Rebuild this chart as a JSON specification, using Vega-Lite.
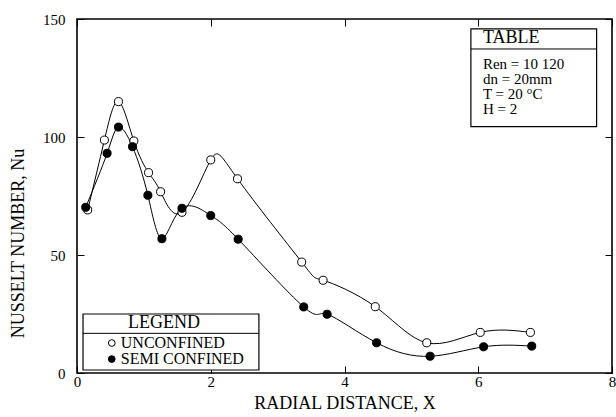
{
  "$schema": "https://vega.github.io/schema/vega-lite/v6.json",
  "width": 535,
  "height": 354,
  "autosize": {"type": "none"},
  "padding": {"left": 77, "top": 19, "right": 4, "bottom": 44},
  "background": "white",
  "config": {
    "view": {"stroke": "#000", "strokeWidth": 1.6},
    "font": "Liberation Serif",
    "axis": {
      "labelFont": "Liberation Serif",
      "labelFontSize": 15,
      "labelColor": "#000",
      "titleFont": "Liberation Serif",
      "titleFontSize": 18,
      "titleFontWeight": "normal",
      "titleColor": "#000",
      "tickColor": "#000",
      "tickSize": -7,
      "tickWidth": 1,
      "domain": false,
      "grid": false
    }
  },
  "datasets": {
    "curves": [
      {"x": 0.16, "nu": 69.1, "series": "UNCONFINED"},
      {"x": 0.41, "nu": 98.7, "series": "UNCONFINED"},
      {"x": 0.62, "nu": 115.0, "series": "UNCONFINED"},
      {"x": 0.85, "nu": 98.3, "series": "UNCONFINED"},
      {"x": 1.07, "nu": 84.9, "series": "UNCONFINED"},
      {"x": 1.25, "nu": 76.8, "series": "UNCONFINED"},
      {"x": 1.57, "nu": 68.1, "series": "UNCONFINED"},
      {"x": 2.0, "nu": 90.3, "series": "UNCONFINED"},
      {"x": 2.4, "nu": 82.3, "series": "UNCONFINED"},
      {"x": 3.36, "nu": 47.0, "series": "UNCONFINED"},
      {"x": 3.68, "nu": 39.3, "series": "UNCONFINED"},
      {"x": 4.46, "nu": 28.1, "series": "UNCONFINED"},
      {"x": 5.23, "nu": 12.8, "series": "UNCONFINED"},
      {"x": 6.03, "nu": 17.2, "series": "UNCONFINED"},
      {"x": 6.78, "nu": 17.2, "series": "UNCONFINED"},
      {"x": 0.13, "nu": 70.2, "series": "SEMI CONFINED"},
      {"x": 0.45, "nu": 93.1, "series": "SEMI CONFINED"},
      {"x": 0.62, "nu": 104.2, "series": "SEMI CONFINED"},
      {"x": 0.83, "nu": 95.9, "series": "SEMI CONFINED"},
      {"x": 1.06, "nu": 75.3, "series": "SEMI CONFINED"},
      {"x": 1.27, "nu": 56.9, "series": "SEMI CONFINED"},
      {"x": 1.57, "nu": 69.8, "series": "SEMI CONFINED"},
      {"x": 2.0, "nu": 66.7, "series": "SEMI CONFINED"},
      {"x": 2.41, "nu": 56.7, "series": "SEMI CONFINED"},
      {"x": 3.39, "nu": 28.0, "series": "SEMI CONFINED"},
      {"x": 3.74, "nu": 24.9, "series": "SEMI CONFINED"},
      {"x": 4.48, "nu": 12.8, "series": "SEMI CONFINED"},
      {"x": 5.28, "nu": 7.1, "series": "SEMI CONFINED"},
      {"x": 6.08, "nu": 11.1, "series": "SEMI CONFINED"},
      {"x": 6.8, "nu": 11.4, "series": "SEMI CONFINED"}
    ],
    "boxes": [
      {"x": 0.09, "x2": 2.72, "nu": 25.0, "nu2": 1.27},
      {"x": 5.89, "x2": 7.77, "nu": 145.8, "nu2": 104.4}
    ],
    "separators": [
      {"x": 0.09, "x2": 2.72, "nu": 16.8},
      {"x": 5.89, "x2": 7.77, "nu": 137.3}
    ],
    "tableTitle": [
      {"x": 6.07, "nu": 141.9, "label": "TABLE"}
    ],
    "tableText": [
      {"x": 6.07, "nu": 130.9, "label": "Ren = 10 120"},
      {"x": 6.07, "nu": 124.5, "label": "dn = 20mm"},
      {"x": 6.07, "nu": 118.1, "label": "T = 20 °C"},
      {"x": 6.07, "nu": 111.7, "label": "H = 2"}
    ],
    "legendTitle": [
      {"x": 1.3, "nu": 21.0, "label": "LEGEND"}
    ],
    "legendItems": [
      {"x": 0.52, "nu": 12.7, "series": "UNCONFINED"},
      {"x": 0.52, "nu": 5.9, "series": "SEMI CONFINED"}
    ]
  },
  "layer": [
    {
      "data": {"name": "curves"},
      "mark": {"type": "line", "interpolate": "natural", "color": "#000", "strokeWidth": 1},
      "encoding": {
        "x": {"field": "x", "type": "quantitative", "scale": {"domain": [0, 8], "nice": false},
              "axis": {"orient": "bottom", "values": [0, 2, 4, 6, 8], "title": "RADIAL DISTANCE, X", "labelPadding": 8, "titlePadding": 5, "labelFlush": false}},
        "y": {"field": "nu", "type": "quantitative", "scale": {"domain": [0, 150], "nice": false},
              "axis": {"orient": "left", "values": [0, 50, 100, 150], "title": "NUSSELT NUMBER, Nu", "labelPadding": 19, "titlePadding": 15, "titleY": 224, "labelFlush": false}},
        "detail": {"field": "series"}
      }
    },
    {
      "data": {"name": "curves"},
      "mark": {"type": "point", "shape": "circle", "filled": true, "stroke": "#000", "strokeWidth": 1, "size": 65, "opacity": 1},
      "encoding": {
        "x": {"field": "x", "type": "quantitative", "scale": {"domain": [0, 8], "nice": false},
              "axis": {"orient": "top", "values": [0, 2, 4, 6, 8], "labels": false, "title": null}},
        "y": {"field": "nu", "type": "quantitative", "scale": {"domain": [0, 150], "nice": false},
              "axis": {"orient": "right", "values": [0, 50, 100, 150], "labels": false, "title": null}},
        "fill": {"field": "series", "type": "nominal", "scale": {"domain": ["UNCONFINED", "SEMI CONFINED"], "range": ["#fff", "#000"]}, "legend": null}
      }
    },
    {
      "data": {"name": "boxes"},
      "mark": {"type": "rect", "fill": "#fff", "stroke": "#000", "strokeWidth": 1.2},
      "encoding": {
        "x": {"field": "x", "type": "quantitative", "axis": null},
        "x2": {"field": "x2"},
        "y": {"field": "nu", "type": "quantitative", "axis": null},
        "y2": {"field": "nu2"}
      }
    },
    {
      "data": {"name": "separators"},
      "mark": {"type": "rule", "color": "#000", "strokeWidth": 1},
      "encoding": {
        "x": {"field": "x", "type": "quantitative", "axis": null},
        "x2": {"field": "x2"},
        "y": {"field": "nu", "type": "quantitative", "axis": null}
      }
    },
    {
      "data": {"name": "tableTitle"},
      "mark": {"type": "text", "align": "left", "baseline": "middle", "fontSize": 18, "font": "Liberation Serif", "color": "#000"},
      "encoding": {
        "x": {"field": "x", "type": "quantitative", "axis": null},
        "y": {"field": "nu", "type": "quantitative", "axis": null},
        "text": {"field": "label"}
      }
    },
    {
      "data": {"name": "tableText"},
      "mark": {"type": "text", "align": "left", "baseline": "middle", "fontSize": 15, "font": "Liberation Serif", "color": "#000"},
      "encoding": {
        "x": {"field": "x", "type": "quantitative", "axis": null},
        "y": {"field": "nu", "type": "quantitative", "axis": null},
        "text": {"field": "label"}
      }
    },
    {
      "data": {"name": "legendTitle"},
      "mark": {"type": "text", "align": "center", "baseline": "middle", "fontSize": 18, "font": "Liberation Serif", "color": "#000"},
      "encoding": {
        "x": {"field": "x", "type": "quantitative", "axis": null},
        "y": {"field": "nu", "type": "quantitative", "axis": null},
        "text": {"field": "label"}
      }
    },
    {
      "data": {"name": "legendItems"},
      "mark": {"type": "point", "shape": "circle", "filled": true, "stroke": "#000", "strokeWidth": 1, "size": 45, "opacity": 1},
      "encoding": {
        "x": {"field": "x", "type": "quantitative", "axis": null},
        "y": {"field": "nu", "type": "quantitative", "axis": null},
        "fill": {"field": "series", "type": "nominal", "scale": {"domain": ["UNCONFINED", "SEMI CONFINED"], "range": ["#fff", "#000"]}, "legend": null}
      }
    },
    {
      "data": {"name": "legendItems"},
      "mark": {"type": "text", "align": "left", "baseline": "middle", "dx": 9, "fontSize": 16, "font": "Liberation Serif", "color": "#000"},
      "encoding": {
        "x": {"field": "x", "type": "quantitative", "axis": null},
        "y": {"field": "nu", "type": "quantitative", "axis": null},
        "text": {"field": "series"}
      }
    }
  ],
  "resolve": {"axis": {"x": "independent", "y": "independent"}}
}
